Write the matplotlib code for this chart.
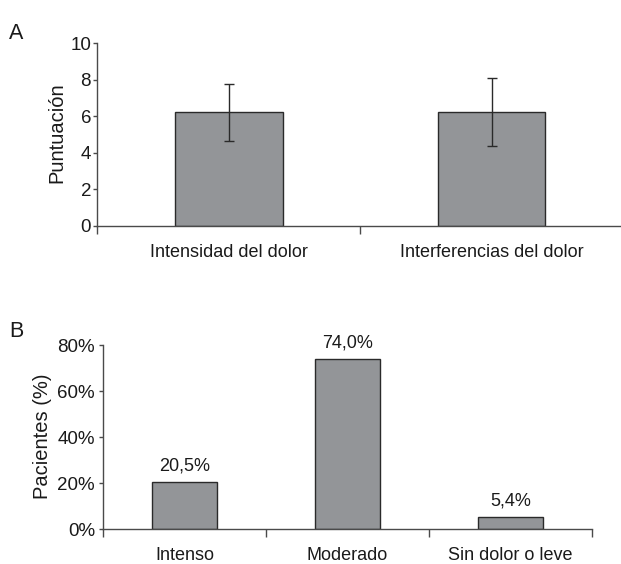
import matplotlib
matplotlib.use("Agg")
import matplotlib.pyplot as plt
import numpy as np

# Panel A data
cats_a = ["Intensidad del dolor", "Interferencias del dolor"]
means_a = [6.22, 6.22]
err_a = [1.57, 1.87]
yticks_a = [0, 2, 4, 6, 8, 10]

# Panel B data
cats_b = ["Intenso", "Moderado", "Sin dolor o leve"]
pct_b = [20.5, 74.0, 5.4]
labels_b = ["20,5%", "74,0%", "5,4%"]
yticks_b = [0, 20, 40, 60, 80]
yticklabels_b = ["0%", "20%", "40%", "60%", "80%"]

plt.rcParams['font.family'] = ['Liberation Sans', 'DejaVu Sans']
BAR = '#939598'
EDGE = '#2a2a2a'
AX = '#4a4a4a'
TXT = '#1a1a1a'
TICKFS = 13.5
CATFS = 13
LABFS = 14.5

fig = plt.figure(figsize=(6.21, 5.64), dpi=100)

def style(ax, ypad):
    for s in ['top', 'right']:
        ax.spines[s].set_visible(False)
    for s in ['left', 'bottom']:
        ax.spines[s].set_color(AX)
        ax.spines[s].set_linewidth(1.0)
    ax.tick_params(axis='y', colors=AX, labelcolor=TXT, direction='out',
                   length=3, width=1.0, labelsize=TICKFS, pad=ypad)
    ax.tick_params(axis='x', which='major', colors=AX, direction='out',
                   length=6, width=1.0)
    ax.tick_params(axis='x', which='minor', length=0, pad=13,
                   labelsize=CATFS, labelcolor=TXT)

# Panel A
axA = fig.add_axes([97.3/621, 1-225.7/564, (623-97.3)/621, (225.7-43.3)/564])
xa = np.arange(len(cats_a))
axA.bar(xa, means_a, width=0.41, color=BAR, edgecolor=EDGE, linewidth=1.0, zorder=2)
axA.errorbar(xa, means_a, yerr=err_a, fmt='none', ecolor=EDGE, elinewidth=1.0,
             capsize=3.4, capthick=1.0, zorder=3)
axA.set_xlim(-0.5, len(cats_a)-0.5)
axA.set_ylim(0, 10)
axA.set_yticks(yticks_a)
axA.set_xticks(np.arange(len(cats_a)+1)-0.5)
axA.set_xticklabels([])
axA.set_xticks(xa, minor=True)
axA.set_xticklabels(cats_a, minor=True)
style(axA, 1.5)
fig.text(57/621, 1-133/564, "Puntuación", fontsize=LABFS, color=TXT,
         rotation=90, ha='center', va='center')
fig.text(9/621, 1-39/564, "A", fontsize=15.5, color=TXT, va='baseline')

# Panel B
axB = fig.add_axes([103.3/621, 1-529/564, (591.7-103.3)/621, (529-345)/564])
xb = np.arange(len(cats_b))
axB.bar(xb, pct_b, width=0.4, color=BAR, edgecolor=EDGE, linewidth=1.0, zorder=2)
for x, v, t in zip(xb, pct_b, labels_b):
    axB.annotate(t, (x, v), xytext=(0, 5), textcoords='offset points',
                 ha='center', va='bottom', fontsize=CATFS, color=TXT)
axB.set_xlim(-0.5, len(cats_b)-0.5)
axB.set_ylim(0, 80)
axB.set_yticks(yticks_b)
axB.set_yticklabels(yticklabels_b)
axB.set_xticks(np.arange(len(cats_b)+1)-0.5)
axB.set_xticklabels([])
axB.set_xticks(xb, minor=True)
axB.set_xticklabels(cats_b, minor=True)
style(axB, 3)
fig.text(43/621, 1-436/564, "Pacientes (%)", fontsize=LABFS, color=TXT,
         rotation=90, ha='center', va='center')
fig.text(9/621, 1-337/564, "B", fontsize=15.5, color=TXT, va='baseline')

fig.savefig("out.png", dpi=100)
